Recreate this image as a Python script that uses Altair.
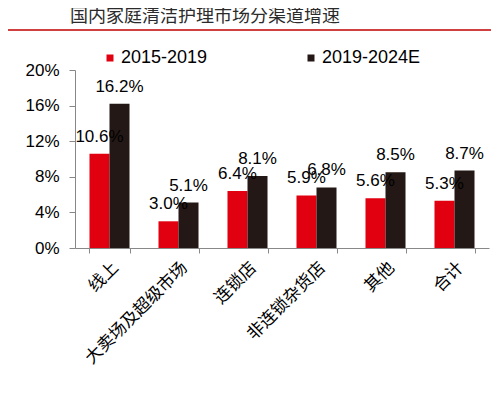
import altair as alt
import pandas as pd

categories = ["线上", "大卖场及超级市场", "连锁店", "非连锁杂货店", "其他", "合计"]
series_names = ["2015-2019", "2019-2024E"]
growth_2015_2019 = [10.6, 3.0, 6.4, 5.9, 5.6, 5.3]
growth_2019_2024 = [16.2, 5.1, 8.1, 6.8, 8.5, 8.7]
y_ticks = [0, 4, 8, 12, 16, 20]
title_text = "国内家庭清洁护理市场分渠道增速"
colors = ["#e0000f", "#231815"]

rows = []
for c, a, b in zip(categories, growth_2015_2019, growth_2019_2024):
    rows.append({"cat": c, "series": series_names[0], "value": a})
    rows.append({"cat": c, "series": series_names[1], "value": b})
df = pd.DataFrame(rows)
df["label"] = df["value"].map(lambda v: f"{v:.1f}%")

FONT = "Liberation Sans, Arial, Noto Sans CJK SC, sans-serif"

x_enc = alt.X(
    "cat:N",
    sort=categories,
    scale=alt.Scale(paddingInner=0.42, paddingOuter=0.21),
    axis=alt.Axis(
        title=None,
        labelAngle=-45,
        labelFontSize=17,
        labelFont=FONT,
        labelColor="#000000",
        labelOverlap=False,
        labelPadding=6,
        tickBand="extent",
        tickSize=5,
        tickColor="#888888",
        domainColor="#888888",
        grid=False,
    ),
)
xo_enc = alt.XOffset("series:N", sort=series_names)
y_enc = alt.Y(
    "value:Q",
    scale=alt.Scale(domain=[0, 20]),
    axis=alt.Axis(
        title=None,
        values=y_ticks,
        labelExpr="datum.value + '%'",
        labelFontSize=17,
        labelFont=FONT,
        labelColor="#000000",
        labelPadding=10,
        tickSize=6,
        tickColor="#888888",
        domainColor="#888888",
        grid=False,
    ),
)

bars = alt.Chart(df).mark_bar().encode(
    x=x_enc,
    xOffset=xo_enc,
    y=y_enc,
    color=alt.Color(
        "series:N",
        sort=series_names,
        scale=alt.Scale(domain=series_names, range=colors),
        legend=alt.Legend(
            title=None,
            orient="none",
            legendX=26,
            legendY=-21,
            direction="horizontal",
            symbolType="square",
            symbolSize=49,
            symbolStrokeWidth=0,
            labelFontSize=18,
            labelFont=FONT,
            labelColor="#000000",
            labelOffset=2,
            labelLimit=300,
            columnPadding=94,
            padding=0,
        ),
    ),
)

labels = alt.Chart(df).mark_text(
    fontSize=17, font=FONT, dy=-12, baseline="alphabetic", color="#000000"
).encode(x=x_enc, xOffset=xo_enc, y=y_enc, text="label:N")

rule = alt.Chart(pd.DataFrame({"k": [0]})).mark_rule(
    color="#c00000", strokeWidth=1.5
).encode(x=alt.value(-67), x2=alt.value(416), y=alt.value(-40))

chart = alt.layer(rule, bars, labels).properties(
    width=414,
    height=178,
    autosize=alt.AutoSizeParams(type="none"),
    padding={"left": 67, "top": 62, "right": 2, "bottom": 128},
    title=alt.TitleParams(
        text=title_text,
        anchor="start",
        frame="group",
        fontSize=18,
        font="Noto Sans CJK SC",
        fontWeight="normal",
        color="#2b2b2b",
        dx=-5,
        dy=1,
    ),
).configure_view(stroke=None)

chart.save("out.html", embed_options={"renderer": "svg", "actions": False})
